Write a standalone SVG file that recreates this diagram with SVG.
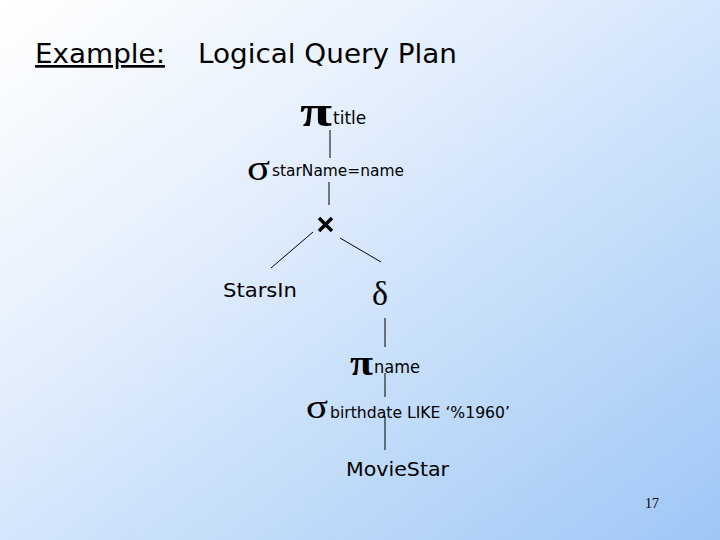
<svg xmlns="http://www.w3.org/2000/svg" width="720" height="540" viewBox="0 0 720 540">
<defs>
<linearGradient id="bg" x1="0" y1="0" x2="1" y2="1">
<stop offset="0" stop-color="#ffffff"/>
<stop offset="0.35" stop-color="#e4effc"/>
<stop offset="1" stop-color="#9ec7f6"/>
</linearGradient>
<style>
.t{font-family:"DejaVu Sans",Verdana,sans-serif;fill:#000}
.g{font-family:"Liberation Serif","DejaVu Serif",serif;fill:#000}
.e{stroke:#000;stroke-width:1;fill:none}
</style>
</defs>
<rect width="720" height="540" fill="url(#bg)"/>
<g id="heading">
<text class="t" x="35" y="63" font-size="27" text-decoration="underline" textLength="130" lengthAdjust="spacingAndGlyphs">Example:</text>
<text class="t" x="198" y="63" font-size="27" textLength="259" lengthAdjust="spacingAndGlyphs">Logical Query Plan</text>
</g>
<g id="connectors">
<line class="e" x1="330" y1="130" x2="330" y2="158"/>
<line class="e" x1="329" y1="182" x2="329" y2="205"/>
<line class="e" x1="313" y1="232" x2="271" y2="268"/>
<line class="e" x1="340" y1="238" x2="381" y2="262"/>
<line class="e" x1="385" y1="318" x2="385" y2="347"/>
<line class="e" x1="385" y1="373" x2="385" y2="397"/>
<line class="e" x1="385" y1="416" x2="385" y2="450"/>
</g>
<g id="pi-title">
<text class="g" x="300" y="126" font-size="44" font-weight="bold" textLength="32" lengthAdjust="spacingAndGlyphs">π</text>
<text class="t" x="333" y="124" font-size="17">title</text>
</g>
<g id="sigma-star">
<text class="g" x="247" y="180" font-size="36" textLength="23" lengthAdjust="spacingAndGlyphs">σ</text>
<text class="t" x="272" y="176" font-size="16" textLength="132" lengthAdjust="spacingAndGlyphs">starName=name</text>
</g>
<g id="cross">
<path d="M319 218 L332 231 M332 218 L319 231" stroke="#000" stroke-width="3.5" fill="none"/>
</g>
<g id="starsin">
<text class="t" x="223" y="297" font-size="20" textLength="74" lengthAdjust="spacingAndGlyphs">StarsIn</text>
</g>
<g id="delta">
<text class="g" x="372" y="305" font-size="34">δ</text>
</g>
<g id="pi-name">
<text class="g" x="350" y="375" font-size="36" font-weight="bold" textLength="23" lengthAdjust="spacingAndGlyphs">π</text>
<text class="t" x="374" y="373" font-size="17" textLength="46" lengthAdjust="spacingAndGlyphs">name</text>
</g>
<g id="sigma-birth">
<text class="g" x="306" y="418" font-size="34" textLength="22" lengthAdjust="spacingAndGlyphs">σ</text>
<text class="t" x="330" y="418" font-size="15" textLength="180" lengthAdjust="spacingAndGlyphs">birthdate LIKE ‘%1960’</text>
</g>
<g id="moviestar">
<text class="t" x="346" y="476" font-size="20" textLength="103" lengthAdjust="spacingAndGlyphs">MovieStar</text>
</g>
<g id="page">
<text class="g" x="645" y="508" font-size="14">17</text>
</g>
</svg>
